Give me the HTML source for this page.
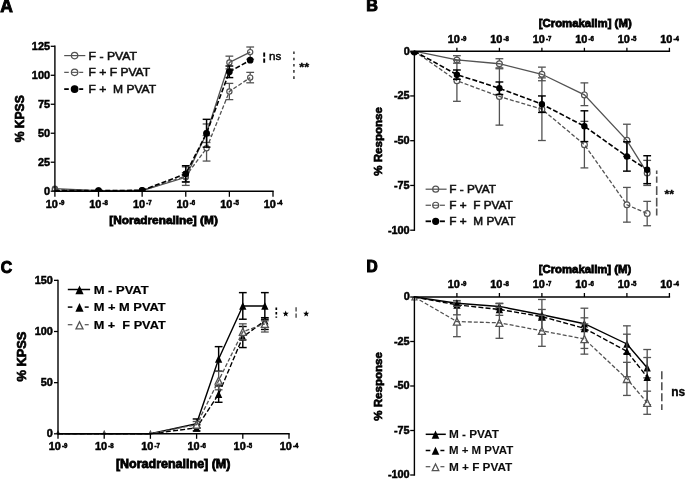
<!DOCTYPE html>
<html><head><meta charset="utf-8"><title>Figure</title>
<style>
html,body{margin:0;padding:0;background:#fff;}
svg{display:block;}
svg text{font-family:"Liberation Sans",sans-serif;font-weight:bold;}
</style></head>
<body>
<svg width="685" height="479" viewBox="0 0 685 479">
<defs><filter id="soft" x="0" y="0" width="685" height="479" filterUnits="userSpaceOnUse"><feGaussianBlur stdDeviation="0.47"/></filter></defs>
<rect width="685" height="479" fill="#fff"/>
<g filter="url(#soft)">
<clipPath id="cA"><rect x="0" y="0" width="343" height="191.2"/></clipPath>
<line x1="185.76" y1="172.65" x2="185.76" y2="181.93" stroke="#525252" stroke-width="1.3"/>
<line x1="181.86" y1="172.65" x2="189.66" y2="172.65" stroke="#525252" stroke-width="1.3"/>
<line x1="181.86" y1="181.93" x2="189.66" y2="181.93" stroke="#525252" stroke-width="1.3"/>
<line x1="206.57" y1="123.97" x2="206.57" y2="142.51" stroke="#525252" stroke-width="1.3"/>
<line x1="202.67" y1="123.97" x2="210.47" y2="123.97" stroke="#525252" stroke-width="1.3"/>
<line x1="202.67" y1="142.51" x2="210.47" y2="142.51" stroke="#525252" stroke-width="1.3"/>
<line x1="229.38" y1="56.15" x2="229.38" y2="68.90" stroke="#525252" stroke-width="1.3"/>
<line x1="225.48" y1="56.15" x2="233.28" y2="56.15" stroke="#525252" stroke-width="1.3"/>
<line x1="225.48" y1="68.90" x2="233.28" y2="68.90" stroke="#525252" stroke-width="1.3"/>
<line x1="250.19" y1="47.00" x2="250.19" y2="59.28" stroke="#525252" stroke-width="1.3"/>
<line x1="246.29" y1="47.00" x2="254.09" y2="47.00" stroke="#525252" stroke-width="1.3"/>
<line x1="246.29" y1="59.28" x2="254.09" y2="59.28" stroke="#525252" stroke-width="1.3"/>
<circle cx="54.90" cy="188.65" r="2.6" fill="none" stroke="#525252" stroke-width="1.2" clip-path="url(#cA)"/>
<circle cx="98.52" cy="190.62" r="2.6" fill="none" stroke="#525252" stroke-width="1.2" clip-path="url(#cA)"/>
<circle cx="142.14" cy="190.50" r="2.6" fill="none" stroke="#525252" stroke-width="1.2" clip-path="url(#cA)"/>
<circle cx="185.76" cy="177.29" r="2.6" fill="#fff" stroke="#525252" stroke-width="1.2"/>
<circle cx="206.57" cy="133.24" r="2.6" fill="#fff" stroke="#525252" stroke-width="1.2"/>
<circle cx="229.38" cy="62.53" r="2.6" fill="#fff" stroke="#525252" stroke-width="1.2"/>
<circle cx="250.19" cy="52.10" r="2.6" fill="#fff" stroke="#525252" stroke-width="1.2"/>
<polyline points="54.90,188.65 98.52,190.62 142.14,190.50 185.76,177.29 206.57,133.24 229.38,62.53 250.19,52.10" fill="none" stroke="#525252" stroke-width="1.3"/>
<line x1="185.76" y1="166.86" x2="185.76" y2="185.40" stroke="#525252" stroke-width="1.3"/>
<line x1="181.86" y1="166.86" x2="189.66" y2="166.86" stroke="#525252" stroke-width="1.3"/>
<line x1="181.86" y1="185.40" x2="189.66" y2="185.40" stroke="#525252" stroke-width="1.3"/>
<line x1="206.57" y1="135.56" x2="206.57" y2="161.06" stroke="#525252" stroke-width="1.3"/>
<line x1="202.67" y1="135.56" x2="210.47" y2="135.56" stroke="#525252" stroke-width="1.3"/>
<line x1="202.67" y1="161.06" x2="210.47" y2="161.06" stroke="#525252" stroke-width="1.3"/>
<line x1="229.38" y1="83.39" x2="229.38" y2="99.62" stroke="#525252" stroke-width="1.3"/>
<line x1="225.48" y1="83.39" x2="233.28" y2="83.39" stroke="#525252" stroke-width="1.3"/>
<line x1="225.48" y1="99.62" x2="233.28" y2="99.62" stroke="#525252" stroke-width="1.3"/>
<line x1="250.19" y1="72.38" x2="250.19" y2="82.81" stroke="#525252" stroke-width="1.3"/>
<line x1="246.29" y1="72.38" x2="254.09" y2="72.38" stroke="#525252" stroke-width="1.3"/>
<line x1="246.29" y1="82.81" x2="254.09" y2="82.81" stroke="#525252" stroke-width="1.3"/>
<circle cx="54.90" cy="189.81" r="2.6" fill="none" stroke="#525252" stroke-width="1.2" clip-path="url(#cA)"/>
<circle cx="98.52" cy="190.74" r="2.6" fill="none" stroke="#525252" stroke-width="1.2" clip-path="url(#cA)"/>
<circle cx="142.14" cy="190.50" r="2.6" fill="none" stroke="#525252" stroke-width="1.2" clip-path="url(#cA)"/>
<circle cx="185.76" cy="176.13" r="2.6" fill="#fff" stroke="#525252" stroke-width="1.2"/>
<circle cx="206.57" cy="148.31" r="2.6" fill="#fff" stroke="#525252" stroke-width="1.2"/>
<circle cx="229.38" cy="91.51" r="2.6" fill="#fff" stroke="#525252" stroke-width="1.2"/>
<circle cx="250.19" cy="77.60" r="2.6" fill="#fff" stroke="#525252" stroke-width="1.2"/>
<polyline points="54.90,189.81 98.52,190.74 142.14,190.50 185.76,176.13 206.57,148.31 229.38,91.51 250.19,77.60" fill="none" stroke="#525252" stroke-width="1.3" stroke-dasharray="4 2"/>
<line x1="185.76" y1="165.70" x2="185.76" y2="181.93" stroke="#000" stroke-width="1.45"/>
<line x1="181.86" y1="165.70" x2="189.66" y2="165.70" stroke="#000" stroke-width="1.45"/>
<line x1="181.86" y1="181.93" x2="189.66" y2="181.93" stroke="#000" stroke-width="1.45"/>
<line x1="206.57" y1="119.33" x2="206.57" y2="147.15" stroke="#000" stroke-width="1.45"/>
<line x1="202.67" y1="119.33" x2="210.47" y2="119.33" stroke="#000" stroke-width="1.45"/>
<line x1="202.67" y1="147.15" x2="210.47" y2="147.15" stroke="#000" stroke-width="1.45"/>
<line x1="229.38" y1="66.01" x2="229.38" y2="77.60" stroke="#000" stroke-width="1.45"/>
<line x1="225.48" y1="66.01" x2="233.28" y2="66.01" stroke="#000" stroke-width="1.45"/>
<line x1="225.48" y1="77.60" x2="233.28" y2="77.60" stroke="#000" stroke-width="1.45"/>
<circle cx="98.52" cy="190.50" r="2.75" fill="#000" stroke="#000" stroke-width="1.2" clip-path="url(#cA)"/>
<circle cx="142.14" cy="190.39" r="2.75" fill="#000" stroke="#000" stroke-width="1.2" clip-path="url(#cA)"/>
<circle cx="185.76" cy="173.81" r="2.75" fill="#000" stroke="#000" stroke-width="1.2"/>
<circle cx="206.57" cy="133.24" r="2.75" fill="#000" stroke="#000" stroke-width="1.2"/>
<circle cx="229.38" cy="71.80" r="2.75" fill="#000" stroke="#000" stroke-width="1.2"/>
<circle cx="250.19" cy="60.21" r="2.75" fill="#000" stroke="#000" stroke-width="1.2"/>
<polyline points="54.90,190.62 98.52,190.50 142.14,190.39 185.76,173.81 206.57,133.24 229.38,71.80 250.19,60.21" fill="none" stroke="#000" stroke-width="1.6" stroke-dasharray="5 2.2"/>
<line x1="54.90" y1="45.60" x2="54.90" y2="191.90" stroke="#000" stroke-width="1.4"/>
<line x1="54.20" y1="191.20" x2="273.70" y2="191.20" stroke="#000" stroke-width="1.4"/>
<line x1="50.70" y1="191.20" x2="54.90" y2="191.20" stroke="#000" stroke-width="1.3"/>
<text x="50.00" y="194.65" font-size="10.9" text-anchor="end" fill="#000" stroke="#000" stroke-width="0.5" >0</text>
<line x1="50.70" y1="162.22" x2="54.90" y2="162.22" stroke="#000" stroke-width="1.3"/>
<text x="50.00" y="165.67" font-size="10.9" text-anchor="end" fill="#000" stroke="#000" stroke-width="0.5" >25</text>
<line x1="50.70" y1="133.24" x2="54.90" y2="133.24" stroke="#000" stroke-width="1.3"/>
<text x="50.00" y="136.69" font-size="10.9" text-anchor="end" fill="#000" stroke="#000" stroke-width="0.5" >50</text>
<line x1="50.70" y1="104.26" x2="54.90" y2="104.26" stroke="#000" stroke-width="1.3"/>
<text x="50.00" y="107.71" font-size="10.9" text-anchor="end" fill="#000" stroke="#000" stroke-width="0.5" >75</text>
<line x1="50.70" y1="75.28" x2="54.90" y2="75.28" stroke="#000" stroke-width="1.3"/>
<text x="50.00" y="78.73" font-size="10.9" text-anchor="end" fill="#000" stroke="#000" stroke-width="0.5" >100</text>
<line x1="50.70" y1="46.30" x2="54.90" y2="46.30" stroke="#000" stroke-width="1.3"/>
<text x="50.00" y="49.75" font-size="10.9" text-anchor="end" fill="#000" stroke="#000" stroke-width="0.5" >125</text>
<line x1="54.90" y1="191.20" x2="54.90" y2="196.80" stroke="#000" stroke-width="1.3"/>
<text x="45.70" y="207.70" font-size="10.9" text-anchor="start" fill="#000" stroke="#000" stroke-width="0.5" >10</text>
<text x="58.90" y="205.20" font-size="7.3" text-anchor="start" fill="#000" stroke="#000" stroke-width="0.6" textLength="5.4" lengthAdjust="spacingAndGlyphs" >-9</text>
<line x1="98.52" y1="191.20" x2="98.52" y2="196.80" stroke="#000" stroke-width="1.3"/>
<text x="89.32" y="207.70" font-size="10.9" text-anchor="start" fill="#000" stroke="#000" stroke-width="0.5" >10</text>
<text x="102.52" y="205.20" font-size="7.3" text-anchor="start" fill="#000" stroke="#000" stroke-width="0.6" textLength="5.4" lengthAdjust="spacingAndGlyphs" >-8</text>
<line x1="142.14" y1="191.20" x2="142.14" y2="196.80" stroke="#000" stroke-width="1.3"/>
<text x="132.94" y="207.70" font-size="10.9" text-anchor="start" fill="#000" stroke="#000" stroke-width="0.5" >10</text>
<text x="146.14" y="205.20" font-size="7.3" text-anchor="start" fill="#000" stroke="#000" stroke-width="0.6" textLength="5.4" lengthAdjust="spacingAndGlyphs" >-7</text>
<line x1="185.76" y1="191.20" x2="185.76" y2="196.80" stroke="#000" stroke-width="1.3"/>
<text x="176.56" y="207.70" font-size="10.9" text-anchor="start" fill="#000" stroke="#000" stroke-width="0.5" >10</text>
<text x="189.76" y="205.20" font-size="7.3" text-anchor="start" fill="#000" stroke="#000" stroke-width="0.6" textLength="5.4" lengthAdjust="spacingAndGlyphs" >-6</text>
<line x1="229.38" y1="191.20" x2="229.38" y2="196.80" stroke="#000" stroke-width="1.3"/>
<text x="220.18" y="207.70" font-size="10.9" text-anchor="start" fill="#000" stroke="#000" stroke-width="0.5" >10</text>
<text x="233.38" y="205.20" font-size="7.3" text-anchor="start" fill="#000" stroke="#000" stroke-width="0.6" textLength="5.4" lengthAdjust="spacingAndGlyphs" >-5</text>
<line x1="273.00" y1="191.20" x2="273.00" y2="196.80" stroke="#000" stroke-width="1.3"/>
<text x="263.80" y="207.70" font-size="10.9" text-anchor="start" fill="#000" stroke="#000" stroke-width="0.5" >10</text>
<text x="277.00" y="205.20" font-size="7.3" text-anchor="start" fill="#000" stroke="#000" stroke-width="0.6" textLength="5.4" lengthAdjust="spacingAndGlyphs" >-4</text>
<text x="163.60" y="223.90" font-size="11.6" text-anchor="middle" fill="#000" stroke="#000" stroke-width="0.8" textLength="108.5" lengthAdjust="spacingAndGlyphs" >[Noradrenaline] (M)</text>
<text transform="translate(24.0,118.8) rotate(-90)" font-size="12.6" text-anchor="middle" stroke="#000" stroke-width="0.7" textLength="47" lengthAdjust="spacingAndGlyphs">% KPSS</text>
<text x="0.20" y="11.90" font-size="17.5" text-anchor="start" fill="#000" stroke="#000" stroke-width="0.9" >A</text>
<line x1="64.20" y1="55.60" x2="85.30" y2="55.60" stroke="#525252" stroke-width="1.2"/>
<circle cx="74.60" cy="55.60" r="3.2" fill="none" stroke="#525252" stroke-width="1.25"/>
<text x="88.60" y="59.70" font-size="11.5" text-anchor="start" fill="#111" stroke="#111" stroke-width="0.55" textLength="48.5" lengthAdjust="spacingAndGlyphs" xml:space="preserve" style="font-weight:normal">F - PVAT</text>
<line x1="64.20" y1="72.35" x2="68.80" y2="72.35" stroke="#525252" stroke-width="1.2"/>
<line x1="79.20" y1="72.35" x2="83.20" y2="72.35" stroke="#525252" stroke-width="1.2"/>
<line x1="71.00" y1="72.35" x2="78.20" y2="72.35" stroke="#525252" stroke-width="1.1"/>
<circle cx="74.60" cy="72.35" r="3.2" fill="none" stroke="#525252" stroke-width="1.25"/>
<text x="88.60" y="76.45" font-size="11.5" text-anchor="start" fill="#111" stroke="#111" stroke-width="0.55" textLength="61.5" lengthAdjust="spacingAndGlyphs" xml:space="preserve" style="font-weight:normal">F + F PVAT</text>
<line x1="64.20" y1="89.10" x2="68.80" y2="89.10" stroke="#000" stroke-width="1.8"/>
<line x1="79.20" y1="89.10" x2="83.20" y2="89.10" stroke="#000" stroke-width="1.8"/>
<circle cx="74.60" cy="89.10" r="3.25" fill="#000" stroke="#000" stroke-width="1.25"/>
<text x="88.60" y="93.20" font-size="11.5" text-anchor="start" fill="#111" stroke="#111" stroke-width="0.55" textLength="67.5" lengthAdjust="spacingAndGlyphs" xml:space="preserve" style="font-weight:normal">F +  M PVAT</text>
<line x1="264.20" y1="52.50" x2="264.20" y2="62.70" stroke="#000" stroke-width="1.9" stroke-dasharray="4.2 1.9"/>
<text x="269.00" y="59.90" font-size="11.5" text-anchor="start" fill="#000" stroke="#000" stroke-width="0.4" textLength="12.3" lengthAdjust="spacingAndGlyphs" style="font-weight:normal">ns</text>
<line x1="293.90" y1="51.50" x2="293.90" y2="79.90" stroke="#525252" stroke-width="1.8" stroke-dasharray="2.6 3.6"/>
<text x="299.30" y="70.60" font-size="10" text-anchor="start" fill="#000" stroke="#000" stroke-width="0.3" textLength="9.9" lengthAdjust="spacingAndGlyphs" >**</text>
<clipPath id="cB"><rect x="343" y="51.2" width="342" height="200"/></clipPath>
<line x1="456.90" y1="55.68" x2="456.90" y2="63.19" stroke="#525252" stroke-width="1.3"/>
<line x1="453.00" y1="55.68" x2="460.80" y2="55.68" stroke="#525252" stroke-width="1.3"/>
<line x1="453.00" y1="63.19" x2="460.80" y2="63.19" stroke="#525252" stroke-width="1.3"/>
<line x1="499.40" y1="58.72" x2="499.40" y2="68.74" stroke="#525252" stroke-width="1.3"/>
<line x1="495.50" y1="58.72" x2="503.30" y2="58.72" stroke="#525252" stroke-width="1.3"/>
<line x1="495.50" y1="68.74" x2="503.30" y2="68.74" stroke="#525252" stroke-width="1.3"/>
<line x1="541.90" y1="67.13" x2="541.90" y2="80.73" stroke="#525252" stroke-width="1.3"/>
<line x1="538.00" y1="67.13" x2="545.80" y2="67.13" stroke="#525252" stroke-width="1.3"/>
<line x1="538.00" y1="80.73" x2="545.80" y2="80.73" stroke="#525252" stroke-width="1.3"/>
<line x1="584.40" y1="82.88" x2="584.40" y2="105.62" stroke="#525252" stroke-width="1.3"/>
<line x1="580.50" y1="82.88" x2="588.30" y2="82.88" stroke="#525252" stroke-width="1.3"/>
<line x1="580.50" y1="105.62" x2="588.30" y2="105.62" stroke="#525252" stroke-width="1.3"/>
<line x1="626.90" y1="124.23" x2="626.90" y2="156.45" stroke="#525252" stroke-width="1.3"/>
<line x1="623.00" y1="124.23" x2="630.80" y2="124.23" stroke="#525252" stroke-width="1.3"/>
<line x1="623.00" y1="156.45" x2="630.80" y2="156.45" stroke="#525252" stroke-width="1.3"/>
<line x1="647.18" y1="160.39" x2="647.18" y2="185.45" stroke="#525252" stroke-width="1.3"/>
<line x1="643.28" y1="160.39" x2="651.08" y2="160.39" stroke="#525252" stroke-width="1.3"/>
<line x1="643.28" y1="185.45" x2="651.08" y2="185.45" stroke="#525252" stroke-width="1.3"/>
<circle cx="456.90" cy="59.97" r="2.9" fill="#fff" stroke="#525252" stroke-width="1.2"/>
<circle cx="499.40" cy="63.73" r="2.9" fill="#fff" stroke="#525252" stroke-width="1.2"/>
<circle cx="541.90" cy="74.29" r="2.9" fill="#fff" stroke="#525252" stroke-width="1.2"/>
<circle cx="584.40" cy="94.88" r="2.9" fill="#fff" stroke="#525252" stroke-width="1.2"/>
<circle cx="626.90" cy="140.34" r="2.9" fill="#fff" stroke="#525252" stroke-width="1.2"/>
<circle cx="647.18" cy="172.92" r="2.9" fill="#fff" stroke="#525252" stroke-width="1.2"/>
<polyline points="414.40,51.20 456.90,59.97 499.40,63.73 541.90,74.29 584.40,94.88 626.90,140.34 647.18,172.92" fill="none" stroke="#525252" stroke-width="1.3"/>
<line x1="456.90" y1="60.15" x2="456.90" y2="101.32" stroke="#525252" stroke-width="1.3"/>
<line x1="453.00" y1="60.15" x2="460.80" y2="60.15" stroke="#525252" stroke-width="1.3"/>
<line x1="453.00" y1="101.32" x2="460.80" y2="101.32" stroke="#525252" stroke-width="1.3"/>
<line x1="499.40" y1="67.85" x2="499.40" y2="125.13" stroke="#525252" stroke-width="1.3"/>
<line x1="495.50" y1="67.85" x2="503.30" y2="67.85" stroke="#525252" stroke-width="1.3"/>
<line x1="495.50" y1="125.13" x2="503.30" y2="125.13" stroke="#525252" stroke-width="1.3"/>
<line x1="541.90" y1="77.87" x2="541.90" y2="140.52" stroke="#525252" stroke-width="1.3"/>
<line x1="538.00" y1="77.87" x2="545.80" y2="77.87" stroke="#525252" stroke-width="1.3"/>
<line x1="538.00" y1="140.52" x2="545.80" y2="140.52" stroke="#525252" stroke-width="1.3"/>
<line x1="584.40" y1="121.37" x2="584.40" y2="167.91" stroke="#525252" stroke-width="1.3"/>
<line x1="580.50" y1="121.37" x2="588.30" y2="121.37" stroke="#525252" stroke-width="1.3"/>
<line x1="580.50" y1="167.91" x2="588.30" y2="167.91" stroke="#525252" stroke-width="1.3"/>
<line x1="626.90" y1="187.42" x2="626.90" y2="222.14" stroke="#525252" stroke-width="1.3"/>
<line x1="623.00" y1="187.42" x2="630.80" y2="187.42" stroke="#525252" stroke-width="1.3"/>
<line x1="623.00" y1="222.14" x2="630.80" y2="222.14" stroke="#525252" stroke-width="1.3"/>
<line x1="647.18" y1="201.38" x2="647.18" y2="225.73" stroke="#525252" stroke-width="1.3"/>
<line x1="643.28" y1="201.38" x2="651.08" y2="201.38" stroke="#525252" stroke-width="1.3"/>
<line x1="643.28" y1="225.73" x2="651.08" y2="225.73" stroke="#525252" stroke-width="1.3"/>
<circle cx="456.90" cy="80.73" r="2.9" fill="#fff" stroke="#525252" stroke-width="1.2"/>
<circle cx="499.40" cy="96.49" r="2.9" fill="#fff" stroke="#525252" stroke-width="1.2"/>
<circle cx="541.90" cy="109.20" r="2.9" fill="#fff" stroke="#525252" stroke-width="1.2"/>
<circle cx="584.40" cy="144.64" r="2.9" fill="#fff" stroke="#525252" stroke-width="1.2"/>
<circle cx="626.90" cy="204.78" r="2.9" fill="#fff" stroke="#525252" stroke-width="1.2"/>
<circle cx="647.18" cy="213.55" r="2.9" fill="#fff" stroke="#525252" stroke-width="1.2"/>
<polyline points="414.40,51.20 456.90,80.73 499.40,96.49 541.90,109.20 584.40,144.64 626.90,204.78 647.18,213.55" fill="none" stroke="#525252" stroke-width="1.3" stroke-dasharray="4 2"/>
<line x1="456.90" y1="70.00" x2="456.90" y2="79.30" stroke="#000" stroke-width="1.45"/>
<line x1="453.00" y1="70.00" x2="460.80" y2="70.00" stroke="#000" stroke-width="1.45"/>
<line x1="453.00" y1="79.30" x2="460.80" y2="79.30" stroke="#000" stroke-width="1.45"/>
<line x1="499.40" y1="81.99" x2="499.40" y2="94.52" stroke="#000" stroke-width="1.45"/>
<line x1="495.50" y1="81.99" x2="503.30" y2="81.99" stroke="#000" stroke-width="1.45"/>
<line x1="495.50" y1="94.52" x2="503.30" y2="94.52" stroke="#000" stroke-width="1.45"/>
<line x1="541.90" y1="95.95" x2="541.90" y2="112.42" stroke="#000" stroke-width="1.45"/>
<line x1="538.00" y1="95.95" x2="545.80" y2="95.95" stroke="#000" stroke-width="1.45"/>
<line x1="538.00" y1="112.42" x2="545.80" y2="112.42" stroke="#000" stroke-width="1.45"/>
<line x1="584.40" y1="110.81" x2="584.40" y2="141.59" stroke="#000" stroke-width="1.45"/>
<line x1="580.50" y1="110.81" x2="588.30" y2="110.81" stroke="#000" stroke-width="1.45"/>
<line x1="580.50" y1="141.59" x2="588.30" y2="141.59" stroke="#000" stroke-width="1.45"/>
<line x1="626.90" y1="141.77" x2="626.90" y2="171.13" stroke="#000" stroke-width="1.45"/>
<line x1="623.00" y1="141.77" x2="630.80" y2="141.77" stroke="#000" stroke-width="1.45"/>
<line x1="623.00" y1="171.13" x2="630.80" y2="171.13" stroke="#000" stroke-width="1.45"/>
<line x1="647.18" y1="155.74" x2="647.18" y2="183.66" stroke="#000" stroke-width="1.45"/>
<line x1="643.28" y1="155.74" x2="651.08" y2="155.74" stroke="#000" stroke-width="1.45"/>
<line x1="643.28" y1="183.66" x2="651.08" y2="183.66" stroke="#000" stroke-width="1.45"/>
<circle cx="414.40" cy="51.20" r="3.6" fill="#000" stroke="#000" stroke-width="1.25" clip-path="url(#cB)"/>
<circle cx="456.90" cy="74.65" r="2.6" fill="#000" stroke="#000" stroke-width="1.2"/>
<circle cx="499.40" cy="88.25" r="2.6" fill="#000" stroke="#000" stroke-width="1.2"/>
<circle cx="541.90" cy="104.18" r="2.6" fill="#000" stroke="#000" stroke-width="1.2"/>
<circle cx="584.40" cy="126.20" r="2.6" fill="#000" stroke="#000" stroke-width="1.2"/>
<circle cx="626.90" cy="156.45" r="2.6" fill="#000" stroke="#000" stroke-width="1.2"/>
<circle cx="647.18" cy="169.70" r="2.6" fill="#000" stroke="#000" stroke-width="1.2"/>
<polyline points="414.40,51.20 456.90,74.65 499.40,88.25 541.90,104.18 584.40,126.20 626.90,156.45 647.18,169.70" fill="none" stroke="#000" stroke-width="1.6" stroke-dasharray="5 2.2"/>
<line x1="414.40" y1="50.50" x2="414.40" y2="230.90" stroke="#000" stroke-width="1.4"/>
<line x1="413.70" y1="51.20" x2="670.10" y2="51.20" stroke="#000" stroke-width="1.4"/>
<line x1="410.20" y1="51.20" x2="414.40" y2="51.20" stroke="#000" stroke-width="1.3"/>
<text x="409.70" y="54.65" font-size="10.9" text-anchor="end" fill="#000" stroke="#000" stroke-width="0.5" >0</text>
<line x1="410.20" y1="95.95" x2="414.40" y2="95.95" stroke="#000" stroke-width="1.3"/>
<text x="409.70" y="99.40" font-size="10.9" text-anchor="end" fill="#000" stroke="#000" stroke-width="0.5" >-25</text>
<line x1="410.20" y1="140.70" x2="414.40" y2="140.70" stroke="#000" stroke-width="1.3"/>
<text x="409.70" y="144.15" font-size="10.9" text-anchor="end" fill="#000" stroke="#000" stroke-width="0.5" >-50</text>
<line x1="410.20" y1="185.45" x2="414.40" y2="185.45" stroke="#000" stroke-width="1.3"/>
<text x="409.70" y="188.90" font-size="10.9" text-anchor="end" fill="#000" stroke="#000" stroke-width="0.5" >-75</text>
<line x1="410.20" y1="230.20" x2="414.40" y2="230.20" stroke="#000" stroke-width="1.3"/>
<text x="409.70" y="233.65" font-size="10.9" text-anchor="end" fill="#000" stroke="#000" stroke-width="0.5" >-100</text>
<line x1="456.90" y1="51.20" x2="456.90" y2="47.80" stroke="#000" stroke-width="1.3"/>
<text x="447.70" y="43.10" font-size="10.9" text-anchor="start" fill="#000" stroke="#000" stroke-width="0.5" >10</text>
<text x="460.90" y="40.60" font-size="7.3" text-anchor="start" fill="#000" stroke="#000" stroke-width="0.6" textLength="5.4" lengthAdjust="spacingAndGlyphs" >-9</text>
<line x1="499.40" y1="51.20" x2="499.40" y2="47.80" stroke="#000" stroke-width="1.3"/>
<text x="490.20" y="43.10" font-size="10.9" text-anchor="start" fill="#000" stroke="#000" stroke-width="0.5" >10</text>
<text x="503.40" y="40.60" font-size="7.3" text-anchor="start" fill="#000" stroke="#000" stroke-width="0.6" textLength="5.4" lengthAdjust="spacingAndGlyphs" >-8</text>
<line x1="541.90" y1="51.20" x2="541.90" y2="47.80" stroke="#000" stroke-width="1.3"/>
<text x="532.70" y="43.10" font-size="10.9" text-anchor="start" fill="#000" stroke="#000" stroke-width="0.5" >10</text>
<text x="545.90" y="40.60" font-size="7.3" text-anchor="start" fill="#000" stroke="#000" stroke-width="0.6" textLength="5.4" lengthAdjust="spacingAndGlyphs" >-7</text>
<line x1="584.40" y1="51.20" x2="584.40" y2="47.80" stroke="#000" stroke-width="1.3"/>
<text x="575.20" y="43.10" font-size="10.9" text-anchor="start" fill="#000" stroke="#000" stroke-width="0.5" >10</text>
<text x="588.40" y="40.60" font-size="7.3" text-anchor="start" fill="#000" stroke="#000" stroke-width="0.6" textLength="5.4" lengthAdjust="spacingAndGlyphs" >-6</text>
<line x1="626.90" y1="51.20" x2="626.90" y2="47.80" stroke="#000" stroke-width="1.3"/>
<text x="617.70" y="43.10" font-size="10.9" text-anchor="start" fill="#000" stroke="#000" stroke-width="0.5" >10</text>
<text x="630.90" y="40.60" font-size="7.3" text-anchor="start" fill="#000" stroke="#000" stroke-width="0.6" textLength="5.4" lengthAdjust="spacingAndGlyphs" >-5</text>
<line x1="669.40" y1="51.20" x2="669.40" y2="47.80" stroke="#000" stroke-width="1.3"/>
<text x="660.20" y="43.10" font-size="10.9" text-anchor="start" fill="#000" stroke="#000" stroke-width="0.5" >10</text>
<text x="673.40" y="40.60" font-size="7.3" text-anchor="start" fill="#000" stroke="#000" stroke-width="0.6" textLength="5.4" lengthAdjust="spacingAndGlyphs" >-4</text>
<text x="585.20" y="27.20" font-size="11.4" text-anchor="middle" fill="#000" stroke="#000" stroke-width="0.8" textLength="93" lengthAdjust="spacingAndGlyphs" >[Cromakalim] (M)</text>
<text transform="translate(382,141.4) rotate(-90)" font-size="11.6" text-anchor="middle" stroke="#000" stroke-width="0.7" textLength="68.5" lengthAdjust="spacingAndGlyphs">% Response</text>
<text x="366.30" y="11.40" font-size="16.2" text-anchor="start" fill="#000" stroke="#000" stroke-width="1.0" >B</text>
<line x1="425.60" y1="189.20" x2="446.60" y2="189.20" stroke="#525252" stroke-width="1.2"/>
<circle cx="435.70" cy="189.20" r="3.0" fill="none" stroke="#525252" stroke-width="1.2"/>
<text x="449.30" y="193.10" font-size="11.3" text-anchor="start" fill="#111" stroke="#111" stroke-width="0.55" textLength="46.8" lengthAdjust="spacingAndGlyphs" xml:space="preserve" style="font-weight:normal">F - PVAT</text>
<line x1="425.60" y1="205.25" x2="431.00" y2="205.25" stroke="#525252" stroke-width="1.2"/>
<line x1="439.90" y1="205.25" x2="444.90" y2="205.25" stroke="#525252" stroke-width="1.2"/>
<line x1="432.60" y1="205.25" x2="438.80" y2="205.25" stroke="#525252" stroke-width="1.1"/>
<circle cx="435.70" cy="205.25" r="3.0" fill="none" stroke="#525252" stroke-width="1.2"/>
<text x="449.30" y="209.15" font-size="11.3" text-anchor="start" fill="#111" stroke="#111" stroke-width="0.55" textLength="63.4" lengthAdjust="spacingAndGlyphs" xml:space="preserve" style="font-weight:normal">F +  F PVAT</text>
<line x1="425.60" y1="221.30" x2="431.00" y2="221.30" stroke="#000" stroke-width="1.8"/>
<line x1="439.90" y1="221.30" x2="444.90" y2="221.30" stroke="#000" stroke-width="1.8"/>
<circle cx="435.70" cy="221.30" r="3.0" fill="#000" stroke="#000" stroke-width="1.2"/>
<text x="449.30" y="225.20" font-size="11.3" text-anchor="start" fill="#111" stroke="#111" stroke-width="0.55" textLength="66.2" lengthAdjust="spacingAndGlyphs" xml:space="preserve" style="font-weight:normal">F +  M PVAT</text>
<line x1="656.70" y1="170.40" x2="656.70" y2="215.40" stroke="#525252" stroke-width="1.6" stroke-dasharray="3.5 2.7 6.2 3.5 8.8 2.7 8.8 1.8 7"/>
<text x="664.40" y="198.20" font-size="10" text-anchor="start" fill="#000" stroke="#000" stroke-width="0.3" textLength="9.6" lengthAdjust="spacingAndGlyphs" >**</text>
<clipPath id="cC"><rect x="0" y="240" width="343" height="193.8"/></clipPath>
<line x1="196.60" y1="418.97" x2="196.60" y2="428.17" stroke="#000" stroke-width="1.45"/>
<line x1="192.70" y1="418.97" x2="200.50" y2="418.97" stroke="#000" stroke-width="1.45"/>
<line x1="192.70" y1="428.17" x2="200.50" y2="428.17" stroke="#000" stroke-width="1.45"/>
<line x1="218.64" y1="346.64" x2="218.64" y2="371.19" stroke="#000" stroke-width="1.45"/>
<line x1="214.74" y1="346.64" x2="222.54" y2="346.64" stroke="#000" stroke-width="1.45"/>
<line x1="214.74" y1="371.19" x2="222.54" y2="371.19" stroke="#000" stroke-width="1.45"/>
<line x1="242.80" y1="292.63" x2="242.80" y2="319.22" stroke="#000" stroke-width="1.45"/>
<line x1="238.90" y1="292.63" x2="246.70" y2="292.63" stroke="#000" stroke-width="1.45"/>
<line x1="238.90" y1="319.22" x2="246.70" y2="319.22" stroke="#000" stroke-width="1.45"/>
<line x1="264.84" y1="292.63" x2="264.84" y2="319.22" stroke="#000" stroke-width="1.45"/>
<line x1="260.94" y1="292.63" x2="268.74" y2="292.63" stroke="#000" stroke-width="1.45"/>
<line x1="260.94" y1="319.22" x2="268.74" y2="319.22" stroke="#000" stroke-width="1.45"/>
<polygon points="196.60,419.66 192.95,427.40 200.25,427.40" fill="#000"/>
<polygon points="218.64,355.01 214.99,362.75 222.29,362.75" fill="#000"/>
<polygon points="242.80,302.01 239.15,309.76 246.45,309.76" fill="#000"/>
<polygon points="264.84,302.01 261.19,309.76 268.49,309.76" fill="#000"/>
<polyline points="58.00,433.80 104.20,433.80 150.40,433.80 196.60,423.57 218.64,358.92 242.80,305.93 264.84,305.93" fill="none" stroke="#000" stroke-width="1.4"/>
<line x1="196.60" y1="424.80" x2="196.60" y2="430.94" stroke="#000" stroke-width="1.45"/>
<line x1="192.70" y1="424.80" x2="200.50" y2="424.80" stroke="#000" stroke-width="1.45"/>
<line x1="192.70" y1="430.94" x2="200.50" y2="430.94" stroke="#000" stroke-width="1.45"/>
<line x1="218.64" y1="385.92" x2="218.64" y2="402.29" stroke="#000" stroke-width="1.45"/>
<line x1="214.74" y1="385.92" x2="222.54" y2="385.92" stroke="#000" stroke-width="1.45"/>
<line x1="214.74" y1="402.29" x2="222.54" y2="402.29" stroke="#000" stroke-width="1.45"/>
<line x1="242.80" y1="326.49" x2="242.80" y2="347.56" stroke="#000" stroke-width="1.45"/>
<line x1="238.90" y1="326.49" x2="246.70" y2="326.49" stroke="#000" stroke-width="1.45"/>
<line x1="238.90" y1="347.56" x2="246.70" y2="347.56" stroke="#000" stroke-width="1.45"/>
<line x1="264.84" y1="317.69" x2="264.84" y2="329.45" stroke="#000" stroke-width="1.45"/>
<line x1="260.94" y1="317.69" x2="268.74" y2="317.69" stroke="#000" stroke-width="1.45"/>
<line x1="260.94" y1="329.45" x2="268.74" y2="329.45" stroke="#000" stroke-width="1.45"/>
<polygon points="196.60,423.96 192.95,431.70 200.25,431.70" fill="#000"/>
<polygon points="218.64,390.20 214.99,397.94 222.29,397.94" fill="#000"/>
<polygon points="242.80,333.11 239.15,340.86 246.45,340.86" fill="#000"/>
<polygon points="264.84,316.85 261.19,324.59 268.49,324.59" fill="#000"/>
<polyline points="58.00,433.80 104.20,433.80 150.40,433.80 196.60,427.87 218.64,394.11 242.80,337.02 264.84,320.76" fill="none" stroke="#000" stroke-width="1.4" stroke-dasharray="5 2.2"/>
<line x1="196.60" y1="421.52" x2="196.60" y2="427.66" stroke="#525252" stroke-width="1.3"/>
<line x1="192.70" y1="421.52" x2="200.50" y2="421.52" stroke="#525252" stroke-width="1.3"/>
<line x1="192.70" y1="427.66" x2="200.50" y2="427.66" stroke="#525252" stroke-width="1.3"/>
<line x1="218.64" y1="371.40" x2="218.64" y2="389.81" stroke="#525252" stroke-width="1.3"/>
<line x1="214.74" y1="371.40" x2="222.54" y2="371.40" stroke="#525252" stroke-width="1.3"/>
<line x1="214.74" y1="389.81" x2="222.54" y2="389.81" stroke="#525252" stroke-width="1.3"/>
<line x1="242.80" y1="323.83" x2="242.80" y2="339.79" stroke="#525252" stroke-width="1.3"/>
<line x1="238.90" y1="323.83" x2="246.70" y2="323.83" stroke="#525252" stroke-width="1.3"/>
<line x1="238.90" y1="339.79" x2="246.70" y2="339.79" stroke="#525252" stroke-width="1.3"/>
<line x1="264.84" y1="320.76" x2="264.84" y2="332.01" stroke="#525252" stroke-width="1.3"/>
<line x1="260.94" y1="320.76" x2="268.74" y2="320.76" stroke="#525252" stroke-width="1.3"/>
<line x1="260.94" y1="332.01" x2="268.74" y2="332.01" stroke="#525252" stroke-width="1.3"/>
<polygon points="58.00,431.30 55.78,435.86 60.22,435.86" fill="none" stroke="#525252" stroke-width="1.3" stroke-linejoin="miter" clip-path="url(#cC)"/>
<polygon points="104.20,431.30 101.98,435.86 106.42,435.86" fill="none" stroke="#525252" stroke-width="1.3" stroke-linejoin="miter" clip-path="url(#cC)"/>
<polygon points="150.40,431.30 148.18,435.86 152.62,435.86" fill="none" stroke="#525252" stroke-width="1.3" stroke-linejoin="miter" clip-path="url(#cC)"/>
<polygon points="196.60,420.99 193.10,428.19 200.10,428.19" fill="#fff" stroke="#525252" stroke-width="1.3" stroke-linejoin="miter"/>
<polygon points="218.64,377.00 215.14,384.20 222.14,384.20" fill="#fff" stroke="#525252" stroke-width="1.3" stroke-linejoin="miter"/>
<polygon points="242.80,328.21 239.30,335.41 246.30,335.41" fill="#fff" stroke="#525252" stroke-width="1.3" stroke-linejoin="miter"/>
<polygon points="264.84,320.23 261.34,327.43 268.34,327.43" fill="#fff" stroke="#525252" stroke-width="1.3" stroke-linejoin="miter"/>
<polyline points="58.00,433.80 104.20,433.80 150.40,433.80 196.60,424.59 218.64,380.60 242.80,331.81 264.84,323.83" fill="none" stroke="#525252" stroke-width="1.3" stroke-dasharray="4 2"/>
<line x1="58.00" y1="279.65" x2="58.00" y2="434.50" stroke="#000" stroke-width="1.4"/>
<line x1="57.30" y1="433.80" x2="289.70" y2="433.80" stroke="#000" stroke-width="1.4"/>
<line x1="54.00" y1="433.80" x2="58.00" y2="433.80" stroke="#000" stroke-width="1.3"/>
<text x="52.80" y="437.25" font-size="10.9" text-anchor="end" fill="#000" stroke="#000" stroke-width="0.5" >0</text>
<line x1="54.00" y1="382.65" x2="58.00" y2="382.65" stroke="#000" stroke-width="1.3"/>
<text x="52.80" y="386.10" font-size="10.9" text-anchor="end" fill="#000" stroke="#000" stroke-width="0.5" >50</text>
<line x1="54.00" y1="331.50" x2="58.00" y2="331.50" stroke="#000" stroke-width="1.3"/>
<text x="52.80" y="334.95" font-size="10.9" text-anchor="end" fill="#000" stroke="#000" stroke-width="0.5" >100</text>
<line x1="54.00" y1="280.35" x2="58.00" y2="280.35" stroke="#000" stroke-width="1.3"/>
<text x="52.80" y="283.80" font-size="10.9" text-anchor="end" fill="#000" stroke="#000" stroke-width="0.5" >150</text>
<line x1="58.00" y1="433.80" x2="58.00" y2="438.80" stroke="#000" stroke-width="1.3"/>
<text x="48.80" y="450.20" font-size="10.9" text-anchor="start" fill="#000" stroke="#000" stroke-width="0.5" >10</text>
<text x="62.00" y="447.70" font-size="7.3" text-anchor="start" fill="#000" stroke="#000" stroke-width="0.6" textLength="5.4" lengthAdjust="spacingAndGlyphs" >-9</text>
<line x1="104.20" y1="433.80" x2="104.20" y2="438.80" stroke="#000" stroke-width="1.3"/>
<text x="95.00" y="450.20" font-size="10.9" text-anchor="start" fill="#000" stroke="#000" stroke-width="0.5" >10</text>
<text x="108.20" y="447.70" font-size="7.3" text-anchor="start" fill="#000" stroke="#000" stroke-width="0.6" textLength="5.4" lengthAdjust="spacingAndGlyphs" >-8</text>
<line x1="150.40" y1="433.80" x2="150.40" y2="438.80" stroke="#000" stroke-width="1.3"/>
<text x="141.20" y="450.20" font-size="10.9" text-anchor="start" fill="#000" stroke="#000" stroke-width="0.5" >10</text>
<text x="154.40" y="447.70" font-size="7.3" text-anchor="start" fill="#000" stroke="#000" stroke-width="0.6" textLength="5.4" lengthAdjust="spacingAndGlyphs" >-7</text>
<line x1="196.60" y1="433.80" x2="196.60" y2="438.80" stroke="#000" stroke-width="1.3"/>
<text x="187.40" y="450.20" font-size="10.9" text-anchor="start" fill="#000" stroke="#000" stroke-width="0.5" >10</text>
<text x="200.60" y="447.70" font-size="7.3" text-anchor="start" fill="#000" stroke="#000" stroke-width="0.6" textLength="5.4" lengthAdjust="spacingAndGlyphs" >-6</text>
<line x1="242.80" y1="433.80" x2="242.80" y2="438.80" stroke="#000" stroke-width="1.3"/>
<text x="233.60" y="450.20" font-size="10.9" text-anchor="start" fill="#000" stroke="#000" stroke-width="0.5" >10</text>
<text x="246.80" y="447.70" font-size="7.3" text-anchor="start" fill="#000" stroke="#000" stroke-width="0.6" textLength="5.4" lengthAdjust="spacingAndGlyphs" >-5</text>
<line x1="289.00" y1="433.80" x2="289.00" y2="438.80" stroke="#000" stroke-width="1.3"/>
<text x="279.80" y="450.20" font-size="10.9" text-anchor="start" fill="#000" stroke="#000" stroke-width="0.5" >10</text>
<text x="293.00" y="447.70" font-size="7.3" text-anchor="start" fill="#000" stroke="#000" stroke-width="0.6" textLength="5.4" lengthAdjust="spacingAndGlyphs" >-4</text>
<text x="173.20" y="468.00" font-size="12.2" text-anchor="middle" fill="#000" stroke="#000" stroke-width="0.8" textLength="114.5" lengthAdjust="spacingAndGlyphs" >[Noradrenaline] (M)</text>
<text transform="translate(25.8,356.6) rotate(-90)" font-size="13.2" text-anchor="middle" stroke="#000" stroke-width="0.7" textLength="50" lengthAdjust="spacingAndGlyphs">% KPSS</text>
<text x="0.70" y="272.70" font-size="15.8" text-anchor="start" fill="#000" stroke="#000" stroke-width="1.0" >C</text>
<line x1="67.80" y1="289.50" x2="90.10" y2="289.50" stroke="#000" stroke-width="1.5"/>
<polygon points="79.50,285.50 75.40,294.20 83.60,294.20" fill="#000"/>
<text x="93.70" y="293.70" font-size="11.8" text-anchor="start" fill="#000" stroke="#000" stroke-width="0.2" textLength="55" lengthAdjust="spacingAndGlyphs" xml:space="preserve">M - PVAT</text>
<line x1="67.80" y1="307.10" x2="72.40" y2="307.10" stroke="#000" stroke-width="1.5"/>
<line x1="84.70" y1="307.10" x2="88.70" y2="307.10" stroke="#000" stroke-width="1.5"/>
<polygon points="79.50,303.10 75.40,311.80 83.60,311.80" fill="#000"/>
<text x="93.70" y="311.30" font-size="11.8" text-anchor="start" fill="#000" stroke="#000" stroke-width="0.2" textLength="72" lengthAdjust="spacingAndGlyphs" xml:space="preserve">M + M PVAT</text>
<line x1="67.80" y1="324.70" x2="72.40" y2="324.70" stroke="#525252" stroke-width="1.2"/>
<line x1="84.70" y1="324.70" x2="88.70" y2="324.70" stroke="#525252" stroke-width="1.2"/>
<polygon points="79.50,321.70 76.00,328.90 83.00,328.90" fill="none" stroke="#525252" stroke-width="1.3" stroke-linejoin="miter"/>
<text x="93.70" y="328.90" font-size="11.8" text-anchor="start" fill="#000" stroke="#000" stroke-width="0.2" textLength="72" lengthAdjust="spacingAndGlyphs" xml:space="preserve">M +  F PVAT</text>
<line x1="276.30" y1="307.40" x2="276.30" y2="317.70" stroke="#000" stroke-width="1.7" stroke-dasharray="2.6 1.9"/>
<polygon points="285.70,310.60 286.52,312.67 288.74,312.81 287.03,314.23 287.58,316.39 285.70,315.20 283.82,316.39 284.37,314.23 282.66,312.81 284.88,312.67" fill="#000"/>
<line x1="296.10" y1="307.30" x2="296.10" y2="317.70" stroke="#555" stroke-width="1.5" stroke-dasharray="4.3 1.8"/>
<polygon points="306.20,310.60 307.02,312.67 309.24,312.81 307.53,314.23 308.08,316.39 306.20,315.20 304.32,316.39 304.87,314.23 303.16,312.81 305.38,312.67" fill="#000"/>
<clipPath id="cD"><rect x="343" y="297.0" width="342" height="200"/></clipPath>
<line x1="456.90" y1="300.56" x2="456.90" y2="305.90" stroke="#525252" stroke-width="1.3"/>
<line x1="453.00" y1="300.56" x2="460.80" y2="300.56" stroke="#525252" stroke-width="1.3"/>
<line x1="453.00" y1="305.90" x2="460.80" y2="305.90" stroke="#525252" stroke-width="1.3"/>
<line x1="499.40" y1="303.23" x2="499.40" y2="309.64" stroke="#525252" stroke-width="1.3"/>
<line x1="495.50" y1="303.23" x2="503.30" y2="303.23" stroke="#525252" stroke-width="1.3"/>
<line x1="495.50" y1="309.64" x2="503.30" y2="309.64" stroke="#525252" stroke-width="1.3"/>
<line x1="541.90" y1="309.46" x2="541.90" y2="320.14" stroke="#525252" stroke-width="1.3"/>
<line x1="538.00" y1="309.46" x2="545.80" y2="309.46" stroke="#525252" stroke-width="1.3"/>
<line x1="538.00" y1="320.14" x2="545.80" y2="320.14" stroke="#525252" stroke-width="1.3"/>
<line x1="584.40" y1="317.83" x2="584.40" y2="329.57" stroke="#525252" stroke-width="1.3"/>
<line x1="580.50" y1="317.83" x2="588.30" y2="317.83" stroke="#525252" stroke-width="1.3"/>
<line x1="580.50" y1="329.57" x2="588.30" y2="329.57" stroke="#525252" stroke-width="1.3"/>
<line x1="626.90" y1="334.20" x2="626.90" y2="353.78" stroke="#525252" stroke-width="1.3"/>
<line x1="623.00" y1="334.20" x2="630.80" y2="334.20" stroke="#525252" stroke-width="1.3"/>
<line x1="623.00" y1="353.78" x2="630.80" y2="353.78" stroke="#525252" stroke-width="1.3"/>
<line x1="647.18" y1="357.52" x2="647.18" y2="377.81" stroke="#525252" stroke-width="1.3"/>
<line x1="643.28" y1="357.52" x2="651.08" y2="357.52" stroke="#525252" stroke-width="1.3"/>
<line x1="643.28" y1="377.81" x2="651.08" y2="377.81" stroke="#525252" stroke-width="1.3"/>
<polygon points="456.90,299.32 453.25,307.06 460.55,307.06" fill="#000"/>
<polygon points="499.40,302.52 495.75,310.27 503.05,310.27" fill="#000"/>
<polygon points="541.90,310.89 538.25,318.63 545.55,318.63" fill="#000"/>
<polygon points="584.40,319.79 580.75,327.53 588.05,327.53" fill="#000"/>
<polygon points="626.90,340.08 623.25,347.83 630.55,347.83" fill="#000"/>
<polygon points="647.18,363.76 643.53,371.50 650.83,371.50" fill="#000"/>
<polyline points="414.40,297.00 456.90,303.23 499.40,306.43 541.90,314.80 584.40,323.70 626.90,343.99 647.18,367.67" fill="none" stroke="#000" stroke-width="1.4"/>
<line x1="456.90" y1="302.16" x2="456.90" y2="314.80" stroke="#525252" stroke-width="1.3"/>
<line x1="453.00" y1="302.16" x2="460.80" y2="302.16" stroke="#525252" stroke-width="1.3"/>
<line x1="453.00" y1="314.80" x2="460.80" y2="314.80" stroke="#525252" stroke-width="1.3"/>
<line x1="499.40" y1="303.59" x2="499.40" y2="315.33" stroke="#525252" stroke-width="1.3"/>
<line x1="495.50" y1="303.59" x2="503.30" y2="303.59" stroke="#525252" stroke-width="1.3"/>
<line x1="495.50" y1="315.33" x2="503.30" y2="315.33" stroke="#525252" stroke-width="1.3"/>
<line x1="541.90" y1="299.49" x2="541.90" y2="333.67" stroke="#525252" stroke-width="1.3"/>
<line x1="538.00" y1="299.49" x2="545.80" y2="299.49" stroke="#525252" stroke-width="1.3"/>
<line x1="538.00" y1="333.67" x2="545.80" y2="333.67" stroke="#525252" stroke-width="1.3"/>
<line x1="584.40" y1="308.21" x2="584.40" y2="348.44" stroke="#525252" stroke-width="1.3"/>
<line x1="580.50" y1="308.21" x2="588.30" y2="308.21" stroke="#525252" stroke-width="1.3"/>
<line x1="580.50" y1="348.44" x2="588.30" y2="348.44" stroke="#525252" stroke-width="1.3"/>
<line x1="626.90" y1="325.84" x2="626.90" y2="376.74" stroke="#525252" stroke-width="1.3"/>
<line x1="623.00" y1="325.84" x2="630.80" y2="325.84" stroke="#525252" stroke-width="1.3"/>
<line x1="623.00" y1="376.74" x2="630.80" y2="376.74" stroke="#525252" stroke-width="1.3"/>
<line x1="647.18" y1="349.51" x2="647.18" y2="404.69" stroke="#525252" stroke-width="1.3"/>
<line x1="643.28" y1="349.51" x2="651.08" y2="349.51" stroke="#525252" stroke-width="1.3"/>
<line x1="643.28" y1="404.69" x2="651.08" y2="404.69" stroke="#525252" stroke-width="1.3"/>
<polygon points="456.90,300.92 453.25,308.67 460.55,308.67" fill="#000"/>
<polygon points="499.40,305.55 495.75,313.29 503.05,313.29" fill="#000"/>
<polygon points="541.90,312.67 538.25,320.41 545.55,320.41" fill="#000"/>
<polygon points="584.40,324.42 580.75,332.16 588.05,332.16" fill="#000"/>
<polygon points="626.90,347.38 623.25,355.12 630.55,355.12" fill="#000"/>
<polygon points="647.18,373.19 643.53,380.93 650.83,380.93" fill="#000"/>
<polyline points="414.40,297.00 456.90,304.83 499.40,309.46 541.90,316.58 584.40,328.33 626.90,351.29 647.18,377.10" fill="none" stroke="#000" stroke-width="1.4" stroke-dasharray="5 2.2"/>
<line x1="456.90" y1="306.43" x2="456.90" y2="336.69" stroke="#525252" stroke-width="1.3"/>
<line x1="453.00" y1="306.43" x2="460.80" y2="306.43" stroke="#525252" stroke-width="1.3"/>
<line x1="453.00" y1="336.69" x2="460.80" y2="336.69" stroke="#525252" stroke-width="1.3"/>
<line x1="499.40" y1="307.32" x2="499.40" y2="338.30" stroke="#525252" stroke-width="1.3"/>
<line x1="495.50" y1="307.32" x2="503.30" y2="307.32" stroke="#525252" stroke-width="1.3"/>
<line x1="495.50" y1="338.30" x2="503.30" y2="338.30" stroke="#525252" stroke-width="1.3"/>
<line x1="541.90" y1="315.33" x2="541.90" y2="346.31" stroke="#525252" stroke-width="1.3"/>
<line x1="538.00" y1="315.33" x2="545.80" y2="315.33" stroke="#525252" stroke-width="1.3"/>
<line x1="538.00" y1="346.31" x2="545.80" y2="346.31" stroke="#525252" stroke-width="1.3"/>
<line x1="584.40" y1="323.88" x2="584.40" y2="354.14" stroke="#525252" stroke-width="1.3"/>
<line x1="580.50" y1="323.88" x2="588.30" y2="323.88" stroke="#525252" stroke-width="1.3"/>
<line x1="580.50" y1="354.14" x2="588.30" y2="354.14" stroke="#525252" stroke-width="1.3"/>
<line x1="626.90" y1="362.33" x2="626.90" y2="395.43" stroke="#525252" stroke-width="1.3"/>
<line x1="623.00" y1="362.33" x2="630.80" y2="362.33" stroke="#525252" stroke-width="1.3"/>
<line x1="623.00" y1="395.43" x2="630.80" y2="395.43" stroke="#525252" stroke-width="1.3"/>
<line x1="647.18" y1="391.16" x2="647.18" y2="414.30" stroke="#525252" stroke-width="1.3"/>
<line x1="643.28" y1="391.16" x2="651.08" y2="391.16" stroke="#525252" stroke-width="1.3"/>
<line x1="643.28" y1="414.30" x2="651.08" y2="414.30" stroke="#525252" stroke-width="1.3"/>
<polygon points="414.40,294.80 411.84,300.07 416.96,300.07" fill="none" stroke="#525252" stroke-width="1.1" stroke-linejoin="miter" clip-path="url(#cD)"/>
<polygon points="456.90,317.96 453.40,325.16 460.40,325.16" fill="#fff" stroke="#525252" stroke-width="1.3" stroke-linejoin="miter"/>
<polygon points="499.40,319.21 495.90,326.41 502.90,326.41" fill="#fff" stroke="#525252" stroke-width="1.3" stroke-linejoin="miter"/>
<polygon points="541.90,327.22 538.40,334.42 545.40,334.42" fill="#fff" stroke="#525252" stroke-width="1.3" stroke-linejoin="miter"/>
<polygon points="584.40,335.41 580.90,342.61 587.90,342.61" fill="#fff" stroke="#525252" stroke-width="1.3" stroke-linejoin="miter"/>
<polygon points="626.90,375.28 623.40,382.48 630.40,382.48" fill="#fff" stroke="#525252" stroke-width="1.3" stroke-linejoin="miter"/>
<polygon points="647.18,399.13 643.68,406.33 650.68,406.33" fill="#fff" stroke="#525252" stroke-width="1.3" stroke-linejoin="miter"/>
<polyline points="414.40,297.00 456.90,321.56 499.40,322.81 541.90,330.82 584.40,339.01 626.90,378.88 647.18,402.73" fill="none" stroke="#525252" stroke-width="1.3" stroke-dasharray="4 2"/>
<line x1="414.40" y1="296.30" x2="414.40" y2="475.70" stroke="#000" stroke-width="1.4"/>
<line x1="413.70" y1="297.00" x2="670.10" y2="297.00" stroke="#000" stroke-width="1.4"/>
<line x1="410.20" y1="297.00" x2="414.40" y2="297.00" stroke="#000" stroke-width="1.3"/>
<text x="409.70" y="300.45" font-size="10.9" text-anchor="end" fill="#000" stroke="#000" stroke-width="0.5" >0</text>
<line x1="410.20" y1="341.50" x2="414.40" y2="341.50" stroke="#000" stroke-width="1.3"/>
<text x="409.70" y="344.95" font-size="10.9" text-anchor="end" fill="#000" stroke="#000" stroke-width="0.5" >-25</text>
<line x1="410.20" y1="386.00" x2="414.40" y2="386.00" stroke="#000" stroke-width="1.3"/>
<text x="409.70" y="389.45" font-size="10.9" text-anchor="end" fill="#000" stroke="#000" stroke-width="0.5" >-50</text>
<line x1="410.20" y1="430.50" x2="414.40" y2="430.50" stroke="#000" stroke-width="1.3"/>
<text x="409.70" y="433.95" font-size="10.9" text-anchor="end" fill="#000" stroke="#000" stroke-width="0.5" >-75</text>
<line x1="410.20" y1="475.00" x2="414.40" y2="475.00" stroke="#000" stroke-width="1.3"/>
<text x="409.70" y="478.45" font-size="10.9" text-anchor="end" fill="#000" stroke="#000" stroke-width="0.5" >-100</text>
<line x1="456.90" y1="297.00" x2="456.90" y2="293.00" stroke="#000" stroke-width="1.3"/>
<text x="447.70" y="288.40" font-size="10.9" text-anchor="start" fill="#000" stroke="#000" stroke-width="0.5" >10</text>
<text x="460.90" y="285.90" font-size="7.3" text-anchor="start" fill="#000" stroke="#000" stroke-width="0.6" textLength="5.4" lengthAdjust="spacingAndGlyphs" >-9</text>
<line x1="499.40" y1="297.00" x2="499.40" y2="293.00" stroke="#000" stroke-width="1.3"/>
<text x="490.20" y="288.40" font-size="10.9" text-anchor="start" fill="#000" stroke="#000" stroke-width="0.5" >10</text>
<text x="503.40" y="285.90" font-size="7.3" text-anchor="start" fill="#000" stroke="#000" stroke-width="0.6" textLength="5.4" lengthAdjust="spacingAndGlyphs" >-8</text>
<line x1="541.90" y1="297.00" x2="541.90" y2="293.00" stroke="#000" stroke-width="1.3"/>
<text x="532.70" y="288.40" font-size="10.9" text-anchor="start" fill="#000" stroke="#000" stroke-width="0.5" >10</text>
<text x="545.90" y="285.90" font-size="7.3" text-anchor="start" fill="#000" stroke="#000" stroke-width="0.6" textLength="5.4" lengthAdjust="spacingAndGlyphs" >-7</text>
<line x1="584.40" y1="297.00" x2="584.40" y2="293.00" stroke="#000" stroke-width="1.3"/>
<text x="575.20" y="288.40" font-size="10.9" text-anchor="start" fill="#000" stroke="#000" stroke-width="0.5" >10</text>
<text x="588.40" y="285.90" font-size="7.3" text-anchor="start" fill="#000" stroke="#000" stroke-width="0.6" textLength="5.4" lengthAdjust="spacingAndGlyphs" >-6</text>
<line x1="626.90" y1="297.00" x2="626.90" y2="293.00" stroke="#000" stroke-width="1.3"/>
<text x="617.70" y="288.40" font-size="10.9" text-anchor="start" fill="#000" stroke="#000" stroke-width="0.5" >10</text>
<text x="630.90" y="285.90" font-size="7.3" text-anchor="start" fill="#000" stroke="#000" stroke-width="0.6" textLength="5.4" lengthAdjust="spacingAndGlyphs" >-5</text>
<line x1="669.40" y1="297.00" x2="669.40" y2="293.00" stroke="#000" stroke-width="1.3"/>
<text x="660.20" y="288.40" font-size="10.9" text-anchor="start" fill="#000" stroke="#000" stroke-width="0.5" >10</text>
<text x="673.40" y="285.90" font-size="7.3" text-anchor="start" fill="#000" stroke="#000" stroke-width="0.6" textLength="5.4" lengthAdjust="spacingAndGlyphs" >-4</text>
<text x="585.00" y="272.70" font-size="11.4" text-anchor="middle" fill="#000" stroke="#000" stroke-width="0.8" textLength="92.5" lengthAdjust="spacingAndGlyphs" >[Cromakalim] (M)</text>
<text transform="translate(382,386.4) rotate(-90)" font-size="11.6" text-anchor="middle" stroke="#000" stroke-width="0.7" textLength="68.5" lengthAdjust="spacingAndGlyphs">% Response</text>
<text x="366.40" y="272.10" font-size="15.7" text-anchor="start" fill="#000" stroke="#000" stroke-width="1.1" textLength="11.2" lengthAdjust="spacingAndGlyphs" >D</text>
<line x1="425.70" y1="434.30" x2="445.80" y2="434.30" stroke="#000" stroke-width="1.5"/>
<polygon points="435.50,430.59 431.70,438.66 439.30,438.66" fill="#000"/>
<text x="448.90" y="438.20" font-size="11" text-anchor="start" fill="#111" stroke="#111" stroke-width="0.1" textLength="50" lengthAdjust="spacingAndGlyphs" xml:space="preserve">M - PVAT</text>
<line x1="425.70" y1="450.50" x2="430.30" y2="450.50" stroke="#000" stroke-width="1.5"/>
<line x1="440.40" y1="450.50" x2="444.40" y2="450.50" stroke="#000" stroke-width="1.5"/>
<polygon points="435.50,446.79 431.70,454.86 439.30,454.86" fill="#000"/>
<text x="448.90" y="454.40" font-size="11" text-anchor="start" fill="#111" stroke="#111" stroke-width="0.1" textLength="64.3" lengthAdjust="spacingAndGlyphs" xml:space="preserve">M + M PVAT</text>
<line x1="425.70" y1="466.70" x2="430.30" y2="466.70" stroke="#525252" stroke-width="1.2"/>
<line x1="440.40" y1="466.70" x2="444.40" y2="466.70" stroke="#525252" stroke-width="1.2"/>
<polygon points="435.50,463.92 432.26,470.59 438.74,470.59" fill="none" stroke="#525252" stroke-width="1.3" stroke-linejoin="miter"/>
<text x="448.90" y="470.60" font-size="11" text-anchor="start" fill="#111" stroke="#111" stroke-width="0.1" textLength="63.4" lengthAdjust="spacingAndGlyphs" xml:space="preserve">M + F PVAT</text>
<line x1="661.80" y1="371.30" x2="661.80" y2="410.00" stroke="#525252" stroke-width="1.6" stroke-dasharray="8 3"/>
<text x="671.20" y="395.60" font-size="12.4" text-anchor="start" fill="#000" stroke="#000" stroke-width="0.35" textLength="14" lengthAdjust="spacingAndGlyphs" >ns</text>
</g>
</svg>
</body></html>
